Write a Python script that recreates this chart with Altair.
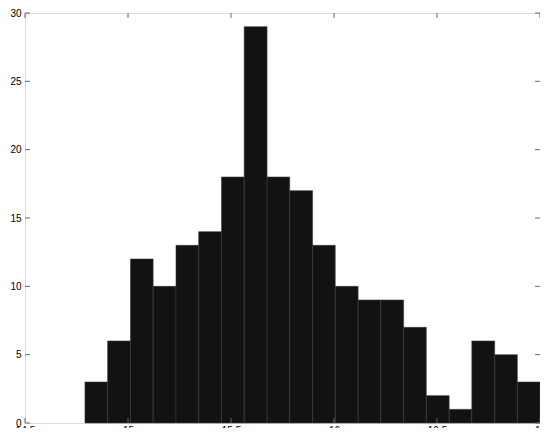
import altair as alt
import pandas as pd

# histogram bin edges and counts
bin_edges = [14.791, 14.901, 15.012, 15.122, 15.233, 15.343, 15.454, 15.564,
             15.675, 15.785, 15.896, 16.006, 16.117, 16.227, 16.338, 16.448,
             16.559, 16.669, 16.780, 16.890, 17.000]
counts = [3, 6, 12, 10, 13, 14, 18, 29, 18, 17, 13, 10, 9, 9, 7, 2, 1, 6, 5, 3]
x_ticks = [14.5, 15, 15.5, 16, 16.5, 17]
y_ticks = [0, 5, 10, 15, 20, 25, 30]

W, H = 515, 410

bars_df = pd.DataFrame({"start": bin_edges[:-1], "end": bin_edges[1:], "count": counts})
xt_df = pd.DataFrame({"x": x_ticks})
yt_df = pd.DataFrame({"y": y_ticks})

xscale = alt.Scale(domain=[14.5, 17], nice=False, zero=False)
yscale = alt.Scale(domain=[0, 30], nice=False)

axis_common = dict(domain=False, ticks=False, grid=False, labelFont="Liberation Sans",
                   labelFontSize=10, labelColor="#000", title=None)

bars = alt.Chart(bars_df).mark_rect(fill="#121212", stroke="#3a3a3a", strokeWidth=0.6).encode(
    x=alt.X("start:Q", scale=xscale,
            axis=alt.Axis(values=x_ticks, labelPadding=2, labelFlush=False,
                          labelExpr="datum.value", **axis_common)),
    x2="end:Q",
    y=alt.Y("count:Q", scale=yscale,
            axis=alt.Axis(values=y_ticks, labelPadding=4, labelFlush=False, **axis_common)),
    y2=alt.datum(0),
)

tick_color = "#666"
left_ticks = alt.Chart(yt_df).mark_rule(color=tick_color, strokeWidth=1).encode(
    y=alt.Y("y:Q", scale=yscale), x=alt.value(0), x2=alt.value(5))
right_ticks = alt.Chart(yt_df).mark_rule(color=tick_color, strokeWidth=1).encode(
    y=alt.Y("y:Q", scale=yscale), x=alt.value(W - 5), x2=alt.value(W))
top_ticks = alt.Chart(xt_df).mark_rule(color=tick_color, strokeWidth=1).encode(
    x=alt.X("x:Q", scale=xscale), y=alt.value(0), y2=alt.value(5))
bottom_ticks = alt.Chart(xt_df).mark_rule(color=tick_color, strokeWidth=1).encode(
    x=alt.X("x:Q", scale=xscale), y=alt.value(H - 5), y2=alt.value(H))

chart = alt.layer(bars, left_ticks, right_ticks, top_ticks, bottom_ticks).properties(
    width=W, height=H,
    autosize=alt.AutoSizeParams(type="none"),
    padding={"left": 17, "top": 5, "right": 0, "bottom": 5},
).configure_view(stroke="#666", strokeWidth=1).configure(background="white")

chart.save("out.html", embed_options={"renderer": "svg", "actions": False})
